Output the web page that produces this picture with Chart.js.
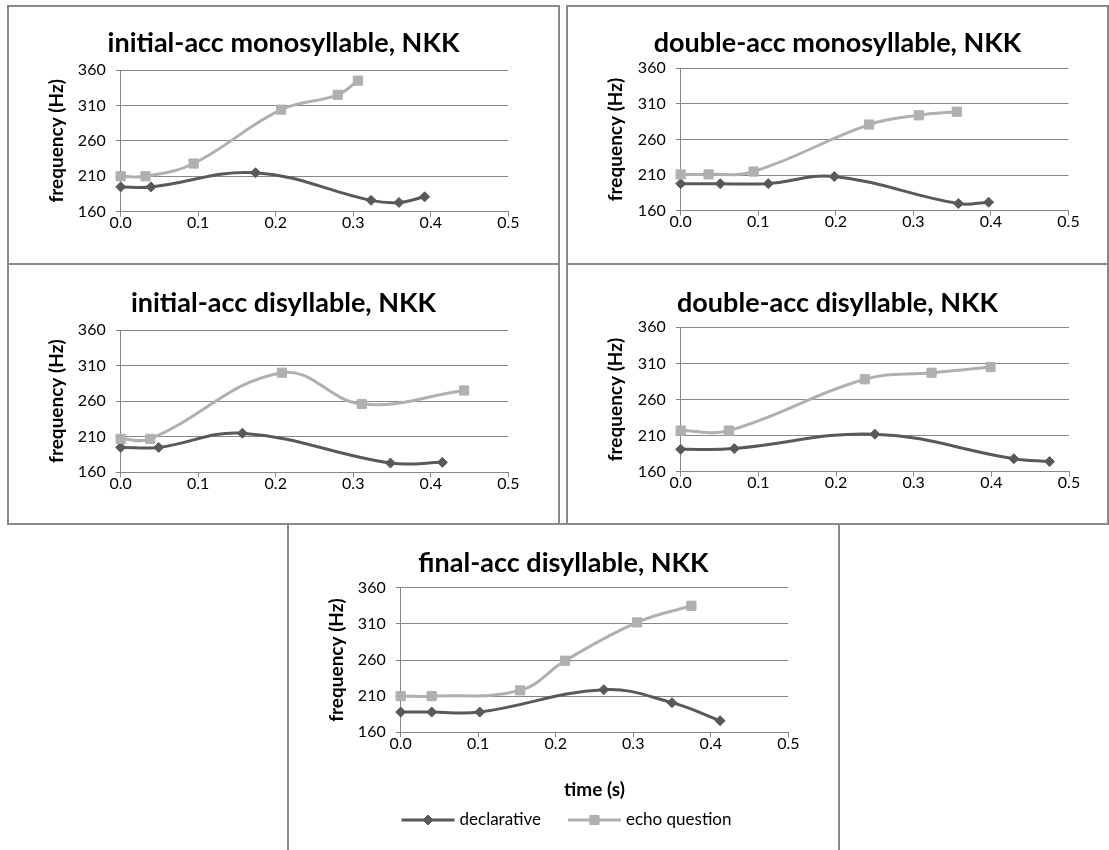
<!DOCTYPE html>
<html>
<head>
<meta charset="utf-8">
<script src="https://cdn.jsdelivr.net/npm/chart.js@4.4.1/dist/chart.umd.min.js"></script>
<style>
  html, body { margin: 0; padding: 0; background: #ffffff; }
  body { width: 1109px; height: 850px; position: relative; overflow: hidden; font-family: Lato, sans-serif; }
  .frame { position: absolute; border: 2px solid #8a8a8a; box-sizing: border-box; }
  canvas { position: absolute; }
</style>
</head>
<body>
<div class="frame" style="left:7px;top:5px;width:553px;height:260px"></div>
<div class="frame" style="left:566px;top:5px;width:543px;height:260px"></div>
<div class="frame" style="left:7px;top:263px;width:553px;height:262px"></div>
<div class="frame" style="left:566px;top:263px;width:543px;height:262px"></div>
<div class="frame" style="left:287px;top:523px;width:553px;height:340px;background:#fff"></div>
<canvas id="c1"></canvas>
<canvas id="c2"></canvas>
<canvas id="c3"></canvas>
<canvas id="c4"></canvas>
<canvas id="c5"></canvas>
<script>
// ---- chart values ----
const panelTitles = [
  'initial-acc monosyllable, NKK',
  'double-acc monosyllable, NKK',
  'initial-acc disyllable, NKK',
  'double-acc disyllable, NKK',
  'final-acc disyllable, NKK'
];
const seriesNames = ['declarative', 'echo question'];
const yAxisLabel = 'frequency (Hz)';
const xAxisLabel = 'time (s)';
const yTickValues = [160, 210, 260, 310, 360];
const xTickValues = [0.0, 0.1, 0.2, 0.3, 0.4, 0.5];

// initial-acc monosyllable
const iniMonoDeclTime = [0.000, 0.039, 0.174, 0.323, 0.359, 0.392];
const iniMonoDeclHz   = [195, 195, 215, 176, 173, 181];
const iniMonoEchoTime = [0.000, 0.032, 0.094, 0.207, 0.280, 0.306];
const iniMonoEchoHz   = [210, 210, 228, 304, 325, 345];

// double-acc monosyllable
const dblMonoDeclTime = [0.000, 0.051, 0.113, 0.198, 0.358, 0.397];
const dblMonoDeclHz   = [198, 198, 198, 208, 170, 172];
const dblMonoEchoTime = [0.000, 0.036, 0.094, 0.243, 0.307, 0.356];
const dblMonoEchoHz   = [211, 211, 215, 281, 294, 299];

// initial-acc disyllable
const iniDiDeclTime = [0.000, 0.049, 0.157, 0.348, 0.415];
const iniDiDeclHz   = [195, 195, 215, 173, 174];
const iniDiEchoTime = [0.000, 0.038, 0.208, 0.311, 0.443];
const iniDiEchoHz   = [207, 207, 300, 256, 275];

// double-acc disyllable
const dblDiDeclTime = [0.000, 0.069, 0.250, 0.429, 0.475];
const dblDiDeclHz   = [191, 192, 212, 178, 174];
const dblDiEchoTime = [0.000, 0.062, 0.237, 0.323, 0.399];
const dblDiEchoHz   = [217, 217, 288, 297, 305];

// final-acc disyllable
const finDiDeclTime = [0.000, 0.040, 0.102, 0.262, 0.350, 0.412];
const finDiDeclHz   = [188, 188, 188, 219, 201, 176];
const finDiEchoTime = [0.000, 0.040, 0.154, 0.212, 0.305, 0.375];
const finDiEchoHz   = [210, 210, 218, 259, 312, 335];

// ---- styling ----
const FONT = 'Lato, "Open Sans", sans-serif';
const TITLE_SIZE = 27;
const AXIS_TITLE_SIZE = 19;
const TICK_SIZE = 16;
const KEY_SIZE = 17;
const GRID = '#878787';
const DECL_COLOR = '#595959';
const ECHO_COLOR = '#b0b0b0';
const TEXT = '#000000';

// panel placement on the page (canvas box, plot box, title centre line)
const panels = [
  { id: 'c1', title: panelTitles[0], decl: [iniMonoDeclTime, iniMonoDeclHz], echo: [iniMonoEchoTime, iniMonoEchoHz],
    box: { x: 9, y: 7, w: 549, h: 256 }, plot: { l: 120.7, r: 508.3, t: 70, b: 211.7 }, titleMid: 43 },
  { id: 'c2', title: panelTitles[1], decl: [dblMonoDeclTime, dblMonoDeclHz], echo: [dblMonoEchoTime, dblMonoEchoHz],
    box: { x: 568, y: 7, w: 539, h: 256 }, plot: { l: 680.7, r: 1068.5, t: 68.3, b: 210.7 }, titleMid: 43 },
  { id: 'c3', title: panelTitles[2], decl: [iniDiDeclTime, iniDiDeclHz], echo: [iniDiEchoTime, iniDiEchoHz],
    box: { x: 9, y: 265, w: 549, h: 258 }, plot: { l: 120.7, r: 508.3, t: 330, b: 472.3 }, titleMid: 303 },
  { id: 'c4', title: panelTitles[3], decl: [dblDiDeclTime, dblDiDeclHz], echo: [dblDiEchoTime, dblDiEchoHz],
    box: { x: 568, y: 265, w: 539, h: 258 }, plot: { l: 680.7, r: 1069, t: 327.3, b: 471.7 }, titleMid: 303 },
  { id: 'c5', title: panelTitles[4], decl: [finDiDeclTime, finDiDeclHz], echo: [finDiEchoTime, finDiEchoHz],
    box: { x: 289, y: 525, w: 549, h: 335 }, plot: { l: 400.7, r: 788.3, t: 587.7, b: 732.3 }, titleMid: 563,
    xTitleMid: 790, key: { cx: 566.5, cy: 820 } }
];

function toPoints(times, values) {
  return times.map((t, i) => ({ x: t, y: values[i] }));
}

// legend drawn as line + marker + label, the way the series are drawn
const lineKey = {
  id: 'lineKey',
  afterDraw(chart, args, opts) {
    if (!opts || !opts.display) return;
    const ctx = chart.ctx;
    ctx.save();
    ctx.font = KEY_SIZE + 'px ' + FONT;
    const items = chart.data.datasets.map(ds => ({
      ds, w: opts.lineLength + opts.textGap + ctx.measureText(ds.label).width
    }));
    const total = items.reduce((s, it) => s + it.w, 0) + opts.itemGap * (items.length - 1);
    let x = opts.cx - total / 2;
    const y = opts.cy;
    items.forEach(({ ds, w }) => {
      ctx.strokeStyle = ds.borderColor;
      ctx.lineWidth = ds.borderWidth;
      ctx.beginPath();
      ctx.moveTo(x, y);
      ctx.lineTo(x + opts.lineLength, y);
      ctx.stroke();
      ctx.fillStyle = ds.pointBackgroundColor;
      ctx.strokeStyle = ds.pointBorderColor;
      ctx.lineWidth = ds.pointBorderWidth;
      Chart.helpers.drawPoint(ctx, {
        pointStyle: ds.pointStyle, radius: ds.pointRadius, borderWidth: ds.pointBorderWidth, rotation: 0
      }, x + opts.lineLength / 2, y);
      ctx.fillStyle = TEXT;
      ctx.textAlign = 'left';
      ctx.textBaseline = 'middle';
      ctx.fillText(ds.label, x + opts.lineLength + opts.textGap, y);
      x += w + opts.itemGap;
    });
    ctx.restore();
  }
};

function build(p) {
  const cv = document.getElementById(p.id);
  cv.width = p.box.w;
  cv.height = p.box.h;
  cv.style.left = p.box.x + 'px';
  cv.style.top = p.box.y + 'px';

  const areaTop = p.plot.t - p.box.y;
  const titlePadTop = p.titleMid - p.box.y - TITLE_SIZE * 0.6;
  const titlePadBottom = areaTop - titlePadTop - TITLE_SIZE * 1.2;
  const yWidth = p.plot.l - p.box.x;
  const rightWidth = p.box.x + p.box.w - p.plot.r;
  let xHeight, padBottom;
  if (p.xTitleMid) {
    const scaleBottom = p.xTitleMid + AXIS_TITLE_SIZE * 0.6;
    xHeight = scaleBottom - p.plot.b;
    padBottom = p.box.y + p.box.h - scaleBottom;
  } else {
    xHeight = p.box.y + p.box.h - p.plot.b;
    padBottom = 0;
  }

  const lineCommon = {
    borderWidth: 3,
    tension: 0.4,
    pointBorderWidth: 1,
    clip: false
  };

  new Chart(cv, {
    type: 'line',
    data: {
      datasets: [
        Object.assign({
          label: seriesNames[0],
          data: toPoints(p.decl[0], p.decl[1]),
          borderColor: DECL_COLOR,
          backgroundColor: DECL_COLOR,
          pointBackgroundColor: DECL_COLOR,
          pointBorderColor: DECL_COLOR,
          pointStyle: 'rectRot',
          pointRadius: 5,
          order: 1
        }, lineCommon),
        Object.assign({
          label: seriesNames[1],
          data: toPoints(p.echo[0], p.echo[1]),
          borderColor: ECHO_COLOR,
          backgroundColor: ECHO_COLOR,
          pointBackgroundColor: ECHO_COLOR,
          pointBorderColor: ECHO_COLOR,
          pointStyle: 'rect',
          pointRadius: 6.5,
          order: 0
        }, lineCommon)
      ]
    },
    options: {
      responsive: false,
      animation: false,
      devicePixelRatio: 1,
      events: [],
      layout: { padding: { left: 0, right: 0, top: 0, bottom: padBottom } },
      plugins: {
        legend: { display: false },
        tooltip: { enabled: false },
        title: {
          display: true,
          text: p.title,
          color: TEXT,
          font: { family: FONT, size: TITLE_SIZE, weight: 'bold', lineHeight: 1.2 },
          padding: { top: titlePadTop, bottom: titlePadBottom }
        },
        lineKey: p.key ? {
          display: true,
          cx: p.key.cx - p.box.x,
          cy: p.key.cy - p.box.y,
          lineLength: 53,
          textGap: 5,
          itemGap: 27
        } : { display: false }
      },
      scales: {
        x: {
          type: 'linear',
          position: 'bottom',
          min: xTickValues[0],
          max: xTickValues[xTickValues.length - 1],
          afterBuildTicks: s => { s.ticks = xTickValues.map(v => ({ value: v })); },
          afterFit: s => { s.height = xHeight; },
          ticks: {
            autoSkip: false,
            maxRotation: 0,
            padding: -3,
            color: TEXT,
            font: { family: FONT, size: TICK_SIZE, lineHeight: 1.2 },
            callback: v => Number(v).toFixed(1)
          },
          grid: { drawOnChartArea: false, drawTicks: true, tickLength: 5, color: GRID, lineWidth: 1 },
          border: { display: true, color: GRID, width: 1 },
          title: {
            display: !!p.xTitleMid,
            text: xAxisLabel,
            color: TEXT,
            font: { family: FONT, size: AXIS_TITLE_SIZE, weight: 'bold', lineHeight: 1.2 },
            padding: { top: 0, bottom: 0 }
          }
        },
        y: {
          type: 'linear',
          position: 'left',
          min: yTickValues[0],
          max: yTickValues[yTickValues.length - 1],
          afterBuildTicks: s => { s.ticks = yTickValues.map(v => ({ value: v })); },
          afterFit: s => { s.width = yWidth; },
          ticks: {
            padding: 10,
            color: TEXT,
            font: { family: FONT, size: TICK_SIZE, lineHeight: 1.2 }
          },
          grid: { drawOnChartArea: true, drawTicks: true, tickLength: 5, color: GRID, lineWidth: 1 },
          border: { display: true, color: GRID, width: 1 },
          title: {
            display: true,
            text: yAxisLabel,
            color: TEXT,
            font: { family: FONT, size: AXIS_TITLE_SIZE, weight: 'bold', lineHeight: 1.2 },
            padding: { top: 48 - AXIS_TITLE_SIZE * 0.6, bottom: 0 }
          }
        },
        spacer: {
          type: 'linear',
          position: 'right',
          display: false,
          afterFit: s => { s.width = rightWidth; }
        }
      }
    },
    plugins: [lineKey]
  });
}

panels.forEach(build);
</script>
</body>
</html>
